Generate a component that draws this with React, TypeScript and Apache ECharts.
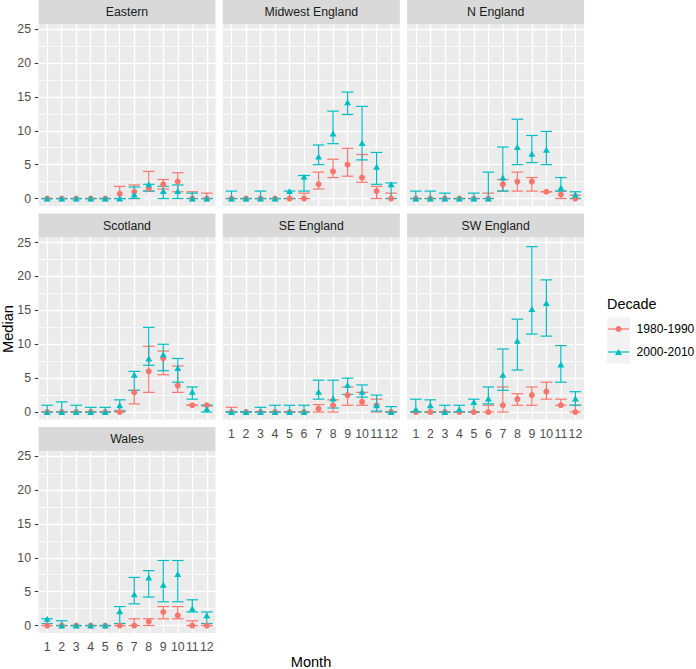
import React, { useEffect, useRef } from "react";
import * as echarts from "echarts";

// ---------- data ----------
const months = [1, 2, 3, 4, 5, 6, 7, 8, 9, 10, 11, 12];
const regions = ["Eastern", "Midwest England", "N England", "Scotland", "SE England", "SW England", "Wales"];
const decades = ["1980-1990", "2000-2010"];
const yTicks = [0, 5, 10, 15, 20, 25];
const yMinor = [2.5, 7.5, 12.5, 17.5, 22.5];

// Eastern
const easternMed1980 = [0, 0, 0, 0, 0, 0.7, 1.0, 1.5, 2.1, 2.5, 0, 0];
const easternLo1980 = [0, 0, 0, 0, 0, 0, 0, 1.1, 1.4, 1.0, 0, 0];
const easternHi1980 = [0, 0, 0, 0, 0, 1.8, 2.0, 4.0, 2.8, 3.8, 1.0, 0.8];
const easternMed2000 = [0, 0, 0, 0, 0, 0, 0.6, 2.1, 1.1, 1.1, 0, 0];
const easternLo2000 = [0, 0, 0, 0, 0, 0, 0, 1.1, 0, 0, 0, 0];
const easternHi2000 = [0, 0, 0, 0, 0, 0, 1.7, 2.1, 1.8, 2.0, 0.8, 0];

// Midwest England
const midwestMed1980 = [0, 0, 0, 0, 0, 0, 2.1, 4.0, 5.0, 3.1, 1.1, 0];
const midwestLo1980 = [0, 0, 0, 0, 0, 0, 1.4, 3.1, 3.3, 2.4, 0, 0];
const midwestHi1980 = [0, 0, 0, 0, 0, 0.8, 3.9, 5.8, 7.4, 6.5, 1.8, 0.8];
const midwestMed2000 = [0, 0, 0, 0, 1.1, 3.2, 6.2, 9.6, 14.2, 8.2, 4.7, 2.1];
const midwestLo2000 = [0, 0, 0, 0, 0, 1.1, 5.0, 8.1, 12.4, 5.7, 2.1, 0];
const midwestHi2000 = [1.1, 0, 1.1, 0, 1.1, 3.4, 7.9, 12.9, 15.7, 13.6, 6.8, 2.3];

// N England
const nengMed1980 = [0, 0, 0, 0, 0, 0, 2.1, 2.5, 2.5, 1.0, 0.6, 0];
const nengLo1980 = [0, 0, 0, 0, 0, 0, 1.1, 1.1, 1.1, 1.0, 0, 0];
const nengHi1980 = [0, 0, 0, 0, 0, 0.8, 2.8, 3.9, 3.1, 1.0, 1.1, 0.5];
const nengMed2000 = [0, 0, 0, 0, 0, 0, 3.1, 7.6, 6.6, 7.2, 1.6, 0.6];
const nengLo2000 = [0, 0, 0, 0, 0, 0, 1.1, 5.0, 5.3, 5.0, 1.1, 0];
const nengHi2000 = [1.1, 1.1, 0.8, 0, 0.8, 3.9, 7.6, 11.7, 9.3, 9.9, 3.1, 1.0];

// Scotland
const scotMed1980 = [0, 0, 0, 0, 0, 0, 2.9, 6.0, 7.9, 3.9, 1.0, 1.0];
const scotLo1980 = [0, 0, 0, 0, 0, 0, 1.2, 2.9, 5.5, 2.9, 1.0, 0.9];
const scotHi1980 = [0, 0, 0, 0, 0, 0.2, 3.2, 9.7, 9.0, 6.8, 1.0, 1.0];
const scotMed2000 = [0, 0, 0, 0, 0, 1.0, 5.5, 7.9, 8.5, 6.5, 3.0, 0.5];
const scotLo2000 = [0, 0, 0, 0, 0, 0.15, 3.2, 6.9, 6.1, 4.4, 1.9, 0];
const scotHi2000 = [1.0, 1.5, 1.0, 0.7, 0.7, 1.8, 6.0, 12.5, 10.0, 7.9, 3.7, 1.0];

// SE England
const seMed1980 = [0, 0, 0, 0, 0, 0, 0.5, 1.0, 2.5, 1.5, 1.0, 0];
const seLo1980 = [0, 0, 0, 0, 0, 0, 0, 0, 1.0, 1.0, 0, 0];
const seHi1980 = [0.7, 0, 0, 0, 0, 0, 1.1, 1.8, 3.7, 2.9, 1.9, 0];
const seMed2000 = [0, 0, 0, 0, 0, 0, 3.0, 2.0, 4.0, 3.0, 1.0, 0];
const seLo2000 = [0, 0, 0, 0, 0, 0, 1.9, 0.6, 2.6, 2.2, 0.15, 0];
const seHi2000 = [0, 0, 0.7, 1.0, 1.0, 1.0, 4.7, 4.7, 5.0, 4.0, 2.5, 0.8];

// SW England
const swMed1980 = [0, 0, 0, 0, 0, 0, 1.0, 1.9, 2.5, 3.0, 1.0, 0];
const swLo1980 = [0, 0, 0, 0, 0, 0, 0, 1.0, 1.0, 1.9, 1.0, 0];
const swHi1980 = [0, 0, 0, 0, 0, 1.0, 3.7, 2.7, 3.7, 4.4, 1.9, 1.0];
const swMed2000 = [0.4, 1.0, 0, 0.4, 1.5, 2.0, 5.5, 10.5, 15.2, 16.1, 7.0, 2.0];
const swLo2000 = [0, 0, 0, 0, 0, 1.2, 3.2, 6.2, 11.5, 11.2, 4.4, 1.0];
const swHi2000 = [1.9, 1.8, 1.0, 1.0, 1.9, 3.7, 9.3, 13.7, 24.4, 19.5, 9.8, 3.0];

// Wales
const walesMed1980 = [0, 0, 0, 0, 0, 0, 0, 0.6, 2.0, 1.5, 0, 0];
const walesLo1980 = [0, 0, 0, 0, 0, 0, 0, 0, 1.0, 1.0, 0, 0];
const walesHi1980 = [0, 0, 0, 0, 0, 0, 1.0, 1.0, 2.8, 2.8, 0.7, 0];
const walesMed2000 = [1.0, 0, 0, 0, 0, 2.1, 4.6, 7.1, 6.0, 7.6, 2.5, 1.5];
const walesLo2000 = [0.3, 0, 0, 0, 0, 0.3, 3.2, 4.2, 3.5, 3.5, 2.0, 0.3];
const walesHi2000 = [1.0, 0.7, 0, 0, 0, 2.8, 7.1, 8.1, 9.6, 9.6, 3.8, 2.0];

const panelData = [
  { med: [easternMed1980, easternMed2000], lo: [easternLo1980, easternLo2000], hi: [easternHi1980, easternHi2000] },
  { med: [midwestMed1980, midwestMed2000], lo: [midwestLo1980, midwestLo2000], hi: [midwestHi1980, midwestHi2000] },
  { med: [nengMed1980, nengMed2000], lo: [nengLo1980, nengLo2000], hi: [nengHi1980, nengHi2000] },
  { med: [scotMed1980, scotMed2000], lo: [scotLo1980, scotLo2000], hi: [scotHi1980, scotHi2000] },
  { med: [seMed1980, seMed2000], lo: [seLo1980, seLo2000], hi: [seHi1980, seHi2000] },
  { med: [swMed1980, swMed2000], lo: [swLo1980, swLo2000], hi: [swHi1980, swHi2000] },
  { med: [walesMed1980, walesMed2000], lo: [walesLo1980, walesLo2000], hi: [walesHi1980, walesHi2000] },
];

// ---------- layout / style ----------
const FONT = '"Liberation Sans", Arial, sans-serif';
const COLORS = ["#F8766D", "#00BFC4"];
const SYMBOLS = ["circle", "triangle"];
const SYMBOL_SIZES: any[] = [6, [7, 6]];
const colLeft = [38.5, 222.8, 407.1];
const panelW = 177;
const rowTop = [24, 237.5, 451];
const panelH = 182;
const stripH = 24;
const Y_MIN = -1.1;
const Y_MAX = 25.75;
const X_MIN = 0.4;
const X_MAX = 12.6;
const CAP_W = 0.8;
const BAR_LW = 1.2;
const bottomPanels = [4, 5, 6];

function buildOption() {
  const grid: any[] = [];
  const xAxis: any[] = [];
  const yAxis: any[] = [];
  const series: any[] = [];
  const graphic: any[] = [];

  regions.forEach((name, i) => {
    const r = Math.floor(i / 3);
    const c = i % 3;
    const showY = c === 0;
    const showX = bottomPanels.includes(i);
    grid.push({
      left: colLeft[c],
      top: rowTop[r],
      width: panelW,
      height: panelH,
      show: true,
      backgroundColor: "#EBEBEB",
      borderWidth: 0,
    });
    xAxis.push({
      type: "value",
      gridIndex: i,
      min: X_MIN,
      max: X_MAX,
      axisLine: { show: false },
      splitLine: { show: false },
      axisTick: { show: showX, customValues: months, length: 3.7, lineStyle: { color: "#333333", width: 1.07 } },
      axisLabel: {
        show: showX,
        customValues: months,
        margin: 8,
        color: "#4D4D4D",
        fontSize: 12.3,
        fontFamily: FONT,
        formatter: (v: number) => String(Math.round(v)),
      },
    });
    yAxis.push({
      type: "value",
      gridIndex: i,
      min: Y_MIN,
      max: Y_MAX,
      axisLine: { show: false },
      splitLine: { show: false },
      axisTick: { show: showY, customValues: yTicks, length: 3.7, lineStyle: { color: "#333333", width: 1.07 } },
      axisLabel: {
        show: showY,
        customValues: yTicks,
        margin: 7.5,
        color: "#4D4D4D",
        fontSize: 12.3,
        fontFamily: FONT,
        formatter: (v: number) => String(Math.round(v)),
      },
    });

    // gridlines
    const major = () => ({ color: "#FFFFFF", width: 1.42, type: "solid" });
    const minor = () => ({ color: "#FFFFFF", width: 0.71, type: "solid" });
    series.push({
      type: "line",
      xAxisIndex: i,
      yAxisIndex: i,
      data: [],
      z: 1,
      silent: true,
      markLine: {
        z: 1,
        silent: true,
        symbol: ["none", "none"],
        label: { show: false },
        emphasis: { disabled: true },
        data: [
          ...yMinor.map((v) => ({ yAxis: v, lineStyle: minor() })),
          ...yTicks.map((v) => ({ yAxis: v, lineStyle: major() })),
          ...months.map((m) => ({ xAxis: m, lineStyle: major() })),
        ],
      },
    });

    const pd = panelData[i];
    // error bars
    [0, 1].forEach((d) => {
      const color = COLORS[d];
      series.push({
        type: "custom",
        name: decades[d],
        xAxisIndex: i,
        yAxisIndex: i,
        z: 3 + d,
        silent: true,
        data: months.map((m, k) => [m, pd.lo[d][k], pd.hi[d][k]]),
        renderItem: (params: any, api: any) => {
          const x = api.value(0);
          const lo = api.value(1);
          const hi = api.value(2);
          const pLo = api.coord([x, lo]);
          const pHi = api.coord([x, hi]);
          const hw = api.size([CAP_W, 0])[0] / 2;
          const st = () => ({ stroke: color, lineWidth: BAR_LW, fill: "none" });
          return {
            type: "group",
            children: [
              { type: "line", shape: { x1: pLo[0], y1: pLo[1], x2: pHi[0], y2: pHi[1] }, style: st() },
              { type: "line", shape: { x1: pLo[0] - hw, y1: pLo[1], x2: pLo[0] + hw, y2: pLo[1] }, style: st() },
              { type: "line", shape: { x1: pHi[0] - hw, y1: pHi[1], x2: pHi[0] + hw, y2: pHi[1] }, style: st() },
            ],
          };
        },
      });
    });
    // points
    [0, 1].forEach((d) => {
      series.push({
        type: "scatter",
        name: decades[d],
        xAxisIndex: i,
        yAxisIndex: i,
        z: 5 + d,
        silent: true,
        symbol: SYMBOLS[d],
        symbolSize: SYMBOL_SIZES[d],
        itemStyle: { color: COLORS[d], opacity: 1 },
        data: months.map((m, k) => [m, pd.med[d][k]]),
      });
    });

    // strip
    graphic.push({
      type: "rect",
      shape: { x: colLeft[c], y: rowTop[r] - stripH, width: panelW, height: stripH },
      style: { fill: "#D9D9D9" },
    });
    graphic.push({
      type: "text",
      x: colLeft[c] + panelW / 2,
      y: rowTop[r] - stripH / 2,
      style: {
        text: name,
        fill: "#1A1A1A",
        fontSize: 12.3,
        fontFamily: FONT,
        align: "center",
        verticalAlign: "middle",
        textAlign: "center",
        textVerticalAlign: "middle",
      },
    });
  });

  // axis titles
  graphic.push({
    type: "text",
    x: 7.7,
    y: 329,
    rotation: Math.PI / 2,
    style: {
      text: "Median",
      fill: "#000000",
      fontSize: 14.6,
      fontFamily: FONT,
      align: "center",
      verticalAlign: "middle",
      textAlign: "center",
      textVerticalAlign: "middle",
    },
  });
  graphic.push({
    type: "text",
    x: 311,
    y: 662,
    style: {
      text: "Month",
      fill: "#000000",
      fontSize: 14.6,
      fontFamily: FONT,
      align: "center",
      verticalAlign: "middle",
      textAlign: "center",
      textVerticalAlign: "middle",
    },
  });

  // legend
  graphic.push({
    type: "text",
    x: 607,
    y: 304,
    style: {
      text: "Decade",
      fill: "#000000",
      fontSize: 14.4,
      fontFamily: FONT,
      align: "left",
      verticalAlign: "middle",
      textAlign: "left",
      textVerticalAlign: "middle",
    },
  });
  const keyTop = [317.5, 340.5];
  decades.forEach((dname, d) => {
    const ky = keyTop[d];
    const cy = ky + 11.5;
    graphic.push({ type: "rect", shape: { x: 607, y: ky, width: 23, height: 23 }, style: { fill: "#F2F2F2" } });
    graphic.push({
      type: "line",
      shape: { x1: 608, y1: cy, x2: 629, y2: cy },
      style: { stroke: COLORS[d], lineWidth: BAR_LW },
    });
    if (d === 0) {
      graphic.push({ type: "circle", shape: { cx: 618.5, cy, r: 3 }, style: { fill: COLORS[d] } });
    } else {
      graphic.push({
        type: "polygon",
        shape: { points: [[615, cy + 3], [622, cy + 3], [618.5, cy - 3]] },
        style: { fill: COLORS[d] },
      });
    }
    graphic.push({
      type: "text",
      x: 636.5,
      y: cy,
      style: {
        text: dname,
        fill: "#000000",
        fontSize: 12.1,
        fontFamily: FONT,
        align: "left",
        verticalAlign: "middle",
        textAlign: "left",
        textVerticalAlign: "middle",
      },
    });
  });

  return {
    animation: false,
    backgroundColor: "#FFFFFF",
    grid,
    xAxis,
    yAxis,
    series,
    graphic,
  };
}

export default function App() {
  const ref = useRef<HTMLDivElement>(null);
  useEffect(() => {
    if (!ref.current) return;
    const chart = echarts.init(ref.current, undefined, { renderer: "svg" });
    chart.setOption(buildOption() as any);
    return () => chart.dispose();
  }, []);
  return (
    <div
      ref={ref}
      style={{ position: "absolute", left: 0, top: 0, width: 696, height: 669 }}
    />
  );
}
